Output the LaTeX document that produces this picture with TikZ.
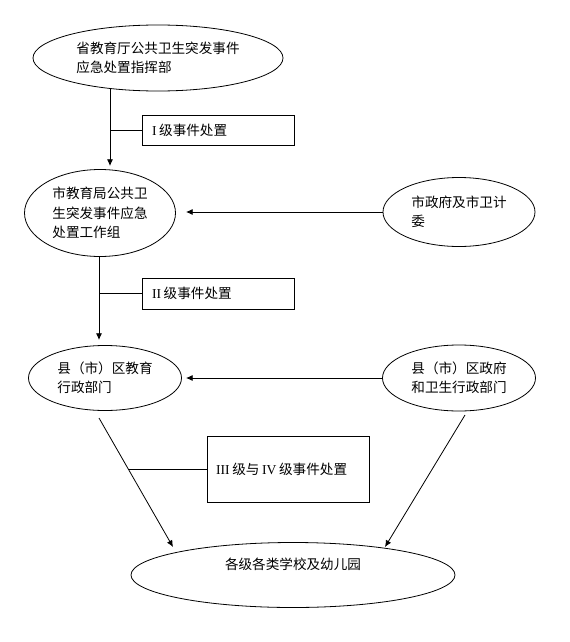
\documentclass[tikz,border=0pt]{standalone}
\usepackage{fontspec}
\setmainfont{Noto Sans CJK SC}
\newfontfamily\romanfont{Liberation Serif}
\usetikzlibrary{arrows.meta,calc,shapes.geometric}
\newcommand{\LV}[1]{{\romanfont #1}\hspace{2pt}}

\begin{document}
\begin{tikzpicture}[x=0.75pt, y=-0.75pt,
    org/.style={draw, ellipse, inner sep=0pt, align=left, line width=0.6pt, font=\fontsize{10.2}{14.6}\selectfont},
    level/.style={draw, rectangle, inner xsep=7.5pt, inner ysep=0pt, align=left, line width=0.6pt, font=\fontsize{10.2}{14.6}\selectfont},
    flow/.style={-{Latex[length=5pt,width=4.5pt]}, line width=0.6pt},
    link/.style={line width=0.6pt}
]
\useasboundingbox (0,0) rectangle (570,642);

% Offices
\node[org, minimum width=187.5pt, minimum height=49.5pt] (prov) at (158,58) {省教育厅公共卫生突发事件\\应急处置指挥部};
\node[org, minimum width=113.25pt, minimum height=65.25pt] (city) at (100,213) {市教育局公共卫\\生突发事件应急\\处置工作组};
\node[org, minimum width=114pt, minimum height=51.75pt] (cgov) at (459,212) {市政府及市卫计\\委};
\node[org, minimum width=114.75pt, minimum height=48.75pt] (county) at (105,378) {县（市）区教育\\行政部门};
\node[org, minimum width=114.75pt, minimum height=49.5pt] (kgov) at (459,378) {县（市）区政府\\和卫生行政部门};
\node[org, minimum width=243pt, minimum height=48.75pt] (school) at (293,575) {各级各类学校及幼儿园\strut\\\strut~};

% Event levels
\node[level, text width=99pt, minimum height=22.5pt] (lv1) at (218,130) {\LV{I}级事件处置};
\node[level, text width=99pt, minimum height=23.25pt] (lv2) at (218,293.5) {\LV{II}级事件处置};
\node[level, text width=108pt, inner xsep=6.75pt, minimum height=49.5pt] (lv3) at (288,469) {\LV{III}级与\hspace{2pt}\LV{IV}级事件处置};

% Free ends
\coordinate (t1) at (110,166);
\coordinate (t2) at (99,340);
\coordinate (t3) at (186,213);
\coordinate (d1) at (99,418);
\coordinate (d2) at (173,547);
\coordinate (e1) at (465,415);
\coordinate (e2) at (385,547);
\coordinate (j) at ($(d1)!0.41!(d2)$);

% Flows
\draw[flow] (prov.212 -| t1) -- (t1);
\draw[link] (lv1.west -| t1) -- (lv1.west);
\draw[flow] (city.south -| t2) -- (t2);
\draw[link] (lv2.west -| t2) -- (lv2.west);
\draw[flow] (cgov.west) -- (cgov.west -| t3);
\draw[flow] (kgov.west) -- (kgov.west -| t3);
\draw[flow] (d1) -- (d2);
\draw[flow] (e1) -- (e2);
\draw[link] (j |- lv3.west) -- (lv3.west);

\end{tikzpicture}
\end{document}
